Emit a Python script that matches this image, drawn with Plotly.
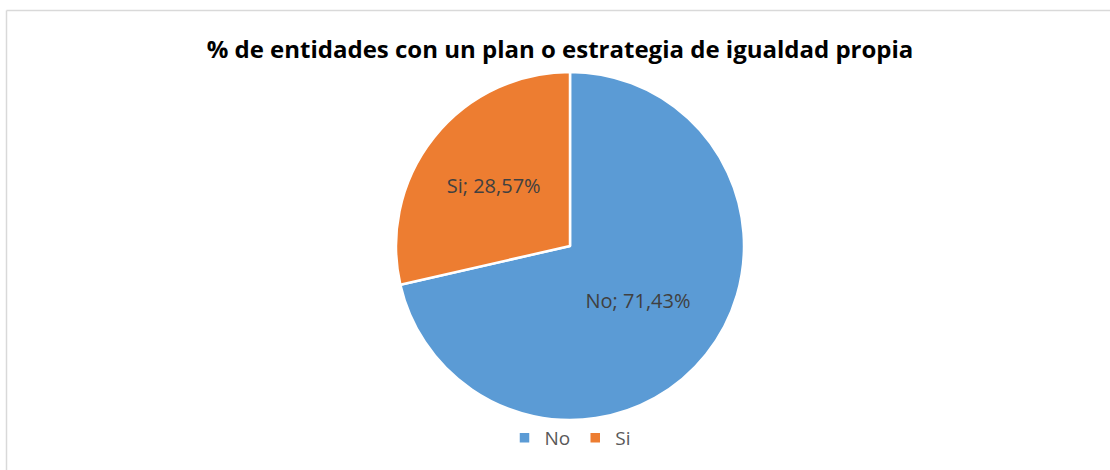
import plotly.graph_objects as go

labels = ["No", "Si"]
values = [71.43, 28.57]
value_text = ["71,43%", "28,57%"]
colors = ["#5B9BD5", "#ED7D31"]
title_text = "% de entidades con un plan o estrategia de igualdad propia"

W, H = 1110, 470
cx, cy, r = 570, 246, 174

fig = go.Figure(go.Pie(
    labels=labels,
    values=values,
    customdata=value_text,
    texttemplate="%{label}; %{customdata}",
    textposition="inside",
    insidetextorientation="horizontal",
    textfont=dict(family="Open Sans", size=20, color="#404040"),
    marker=dict(colors=colors, line=dict(color="white", width=2.5)),
    sort=False,
    direction="clockwise",
    rotation=0,
    hoverinfo="none",
    domain=dict(x=[(cx - r) / W, (cx + r) / W], y=[1 - (cy + r) / H, 1 - (cy - r) / H]),
))

fig.update_layout(
    width=W, height=H,
    margin=dict(l=0, r=0, t=0, b=0),
    paper_bgcolor="white",
    title=dict(text="<b>" + title_text + "</b>", x=560 / W, xanchor="center",
               y=1 - 50 / H, yanchor="middle",
               font=dict(family="Open Sans", size=24, color="#000000")),
    legend=dict(orientation="h", x=570 / W, xanchor="center", y=1 - 438 / H, yanchor="middle",
                font=dict(family="Open Sans", size=19, color="#595959"),
                itemwidth=30),
    showlegend=True,
    shapes=[
        dict(type="line", xref="paper", yref="paper", x0=6.5 / W, x1=6.5 / W, y0=0, y1=1 - 10.5 / H,
             line=dict(color="#D9D9D9", width=1.5)),
        dict(type="line", xref="paper", yref="paper", x0=6.5 / W, x1=1, y0=1 - 10.5 / H, y1=1 - 10.5 / H,
             line=dict(color="#D9D9D9", width=1.5)),
    ],
)

fig.write_html("out.html", config={"displayModeBar": False},
               post_script="document.body.style.margin='0';")
